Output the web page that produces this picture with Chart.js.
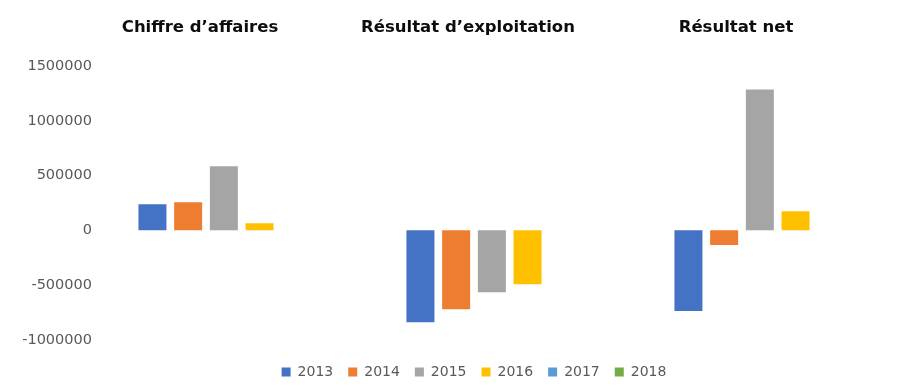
<!DOCTYPE html>
<html>
<head>
<meta charset="utf-8">
<script src="https://cdn.jsdelivr.net/npm/chart.js@4"></script>
<style>
  body { margin: 0; background: #fff; }
</style>
</head>
<body>
<canvas id="myChart" width="906" height="389"></canvas>
<script>
const categories = ['Chiffre d\u2019affaires', 'R\u00e9sultat d\u2019exploitation', 'R\u00e9sultat net'];
const years = ['2013', '2014', '2015', '2016', '2017', '2018'];
const colors = ['#4472C4', '#ED7D31', '#A5A5A5', '#FFC000', '#5B9BD5', '#70AD47'];

const v2013 = [237000, -839000, -736000];
const v2014 = [255000, -721000, -134000];
const v2015 = [584000, -566000, 1286000];
const v2016 = [64000, -493000, 173000];
const v2017 = [null, null, null];
const v2018 = [null, null, null];
const values = [v2013, v2014, v2015, v2016, v2017, v2018];

const yMin = -1000000;
const yMax = 1500000;
const yStep = 500000;

const tickFont = '14.5px "DejaVu Sans"';

// y labels sit inside the plot area, right edge 20px past its left side
const ctx = document.getElementById('myChart');
const g = ctx.getContext('2d');
g.font = tickFont;
let widest = 0;
for (let v = yMin; v <= yMax; v += yStep) {
    widest = Math.max(widest, g.measureText(String(v)).width);
}

new Chart(ctx, {
    type: 'bar',
    data: {
        labels: categories,
        datasets: years.map((y, i) => ({
            label: y,
            data: values[i],
            backgroundColor: colors[i],
            borderWidth: 0
        }))
    },
    options: {
        responsive: false,
        animation: false,
        skipNull: true,
        categoryPercentage: 0.533,
        barPercentage: 0.784,
        layout: { padding: { left: 2, right: 30, top: 0, bottom: 0 } },
        plugins: {
            tooltip: { enabled: false },
            legend: {
                position: 'bottom',
                fullSize: false,
                title: { display: true, text: '', font: { size: 1 }, padding: { top: 9, bottom: 0 } },
                labels: {
                    boxWidth: 9,
                    boxHeight: 9,
                    padding: 15,
                    color: '#595959',
                    font: { family: 'DejaVu Sans', size: 14 }
                }
            }
        },
        scales: {
            x: {
                position: 'top',
                grid: { display: false, drawTicks: false },
                border: { display: false },
                ticks: {
                    color: '#0d0d0d',
                    padding: 28,
                    labelOffset: -6,
                    font: { family: 'DejaVu Sans', size: 16.5, weight: 'bold' }
                },
                afterFit: s => { s.height = 66; }
            },
            y: {
                min: yMin,
                max: yMax,
                grid: { display: false, drawTicks: false },
                border: { display: false },
                ticks: {
                    stepSize: yStep,
                    mirror: true,
                    crossAlign: 'far',
                    padding: 20 - widest,
                    color: '#595959',
                    font: { family: 'DejaVu Sans', size: 14.5 },
                    callback: v => String(v)
                },
                afterFit: s => { s.width = 70; }
            }
        }
    }
});
</script>
</body>
</html>
